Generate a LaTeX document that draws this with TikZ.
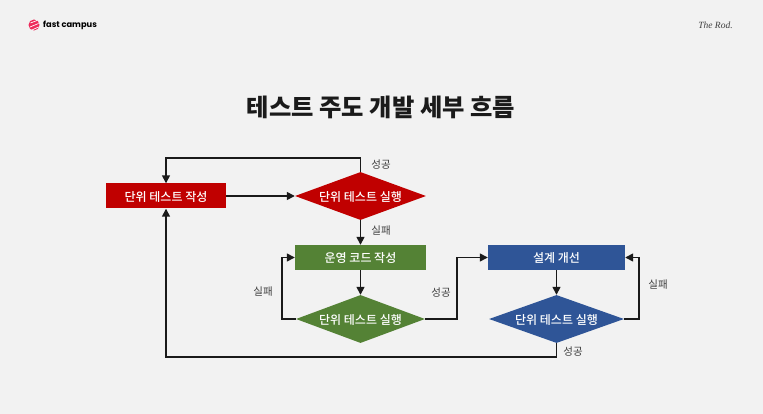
\documentclass[tikz,border=0pt]{standalone}
\usepackage{xcolor}
\usepackage{fontspec}
\setmainfont{Noto Sans CJK KR}
\newfontfamily\medfont{Noto Sans CJK KR Medium}
\newfontfamily\logofont{Poppins}
\newfontfamily\signfont{Liberation Serif}
\usepackage{tikz}
\usetikzlibrary{arrows.meta,shapes.geometric}
\definecolor{bgc}{HTML}{F2F2F2}
\definecolor{ink}{HTML}{1A1A1A}
\definecolor{ink2}{HTML}{404040}
\definecolor{redc}{HTML}{C00000}
\definecolor{greenc}{HTML}{548235}
\definecolor{bluec}{HTML}{2F5597}
\definecolor{logoc}{HTML}{EE2A5B}
\begin{document}
\begin{tikzpicture}[x=1pt,y=-1pt,
  box/.style={draw=none,text=white,font=\medfont\fontsize{12}{14}\selectfont,text height=11pt,text depth=0.5pt,minimum height=25pt,inner sep=0pt},
  dia/.style={box,diamond,shape aspect=2.7,minimum height=48pt},
  lbl/.style={ink2,font=\fontsize{10.5}{12}\selectfont,inner sep=0pt},
  ar/.style={-{Triangle[length=8pt,width=8pt]},draw=ink,line width=1.5pt}]
\node[fill=bgc,minimum width=763pt,minimum height=414pt,inner sep=0pt,outer sep=0pt] (bg) at (381.5,207) {};
\node[fill=logoc,circle,minimum size=11pt,inner sep=0pt] (logo) at (34,25) {};
\draw[white,line width=.7pt] (30.5,23) -- (37,20.5) (30,27) -- (38.5,23.5) (32,30) -- (38.5,27);
\node[anchor=west,inner sep=0pt,font=\logofont\fontsize{8.3}{10}\selectfont] (brand) at (43,25) {\bfseries fast campus};
\node[inner sep=0pt,ink2,font=\signfont\itshape\fontsize{9.5}{11}\selectfont] (sign) at (715.5,25) {The Rod.};
\node[ink,font=\bfseries\fontsize{24.3}{28}\selectfont,inner sep=0pt] (title) at (381,107) {테스트 주도 개발 세부 흐름};
\node[box,fill=redc,minimum width=120pt] (write) at (166,196) {단위 테스트 작성};
\node[dia,fill=redc,minimum width=131pt] (run1) at (360.5,196) {단위 테스트 실행};
\node[box,fill=greenc,minimum width=131pt] (code) at (360.5,257.5) {운영 코드 작성};
\node[dia,fill=greenc,minimum width=129pt] (run2) at (360.5,319) {단위 테스트 실행};
\node[box,fill=bluec,minimum width=137pt] (design) at (556.5,257.5) {설계 개선};
\node[dia,fill=bluec,minimum width=135pt] (run3) at (556.5,319) {단위 테스트 실행};
\node[lbl] (l1) at (381,165) {성공};
\node[lbl] (l2) at (381,231) {실패};
\node[lbl] (l3) at (263,292) {실패};
\node[lbl] (l4) at (441,293) {성공};
\node[lbl] (l5) at (658,285) {실패};
\node[lbl] (l6) at (573,352) {성공};
\draw[ar] (write) -- (run1);
\draw[ar] (run1) -- (code);
\draw[ar] (code) -- (run2);
\draw[ar] (design) -- (run3);
\draw[ar] (run1.north) -- ++(0,-14) -| (write.north);
\draw[ar] (run2.west) -- ++(-14,0) |- (code.west);
\draw[ar] (run2.east) -- ++(32,0) |- (design.west);
\draw[ar] (run3.east) -- ++(15,0) |- (design.east);
\draw[ar] (run3.south) -- ++(0,14) -| (write.south);
\end{tikzpicture}
\end{document}
